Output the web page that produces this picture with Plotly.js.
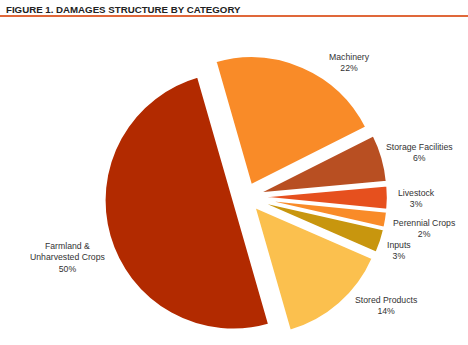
<!DOCTYPE html>
<html><head><meta charset="utf-8">
<script src="https://cdn.plot.ly/plotly-3.0.1.min.js"></script>
<style>html,body{margin:0;padding:0;background:#fff}#chart{width:468px;height:345px}</style>
</head><body><div id="chart"></div>
<script>
const categories = ["Machinery", "Storage Facilities", "Livestock", "Perennial Crops", "Inputs", "Stored Products", "Farmland &<br>Unharvested Crops"];
const shares = [22, 6, 3, 2, 3, 14, 50];
const sliceColors = ["#F98B28", "#B84F22", "#E6501E", "#F98B28", "#C8960E", "#FBC04E", "#B22A00"];
// label anchor positions (paper coords) for each category label
const labelX = [0.746, 0.897, 0.889, 0.906, 0.853, 0.825, 0.145];
const labelY = [0.933, 0.629, 0.478, 0.375, 0.304, 0.12, 0.278];

const trace = {
  type: "pie",
  values: shares,
  labels: categories,
  sort: false,
  direction: "clockwise",
  rotation: -16,
  marker: {colors: sliceColors, line: {color: "#ffffff", width: 2}},
  pull: shares.map(() => 0.1),
  textinfo: "none",
  hoverinfo: "label+percent",
  showlegend: false,
  domain: {x: [0.2, 0.851], y: [0.007, 0.956]}
};

const annotations = categories.map((c, i) => ({
  xref: "paper", yref: "paper", x: labelX[i], y: labelY[i],
  text: c + "<br>" + shares[i] + "%",
  showarrow: false, xanchor: "center", yanchor: "middle",
  font: {family: "Liberation Sans, Arial, sans-serif", size: 8.7, color: "#333333"},
  align: "center"
}));
annotations.push({
  xref: "paper", yref: "paper", x: 0.008, y: 1, yanchor: "top", xanchor: "left",
  yshift: 40, text: "<b>FIGURE 1. DAMAGES STRUCTURE BY CATEGORY</b>", showarrow: false,
  font: {family: "Liberation Sans, Arial, sans-serif", size: 9.7, color: "#222222"}
});

const layout = {
  width: 468, height: 345,
  margin: {l: 0, r: 0, t: 42, b: 4},
  paper_bgcolor: "#ffffff",
  annotations: annotations,
  shapes: [{type: "line", xref: "paper", yref: "paper", x0: 0, x1: 1, y0: 1 + 26/299, y1: 1 + 26/299,
    line: {color: "#E0683A", width: 2}}]
};
Plotly.newPlot("chart", [trace], layout, {displayModeBar: false, staticPlot: true});
</script></body></html>
